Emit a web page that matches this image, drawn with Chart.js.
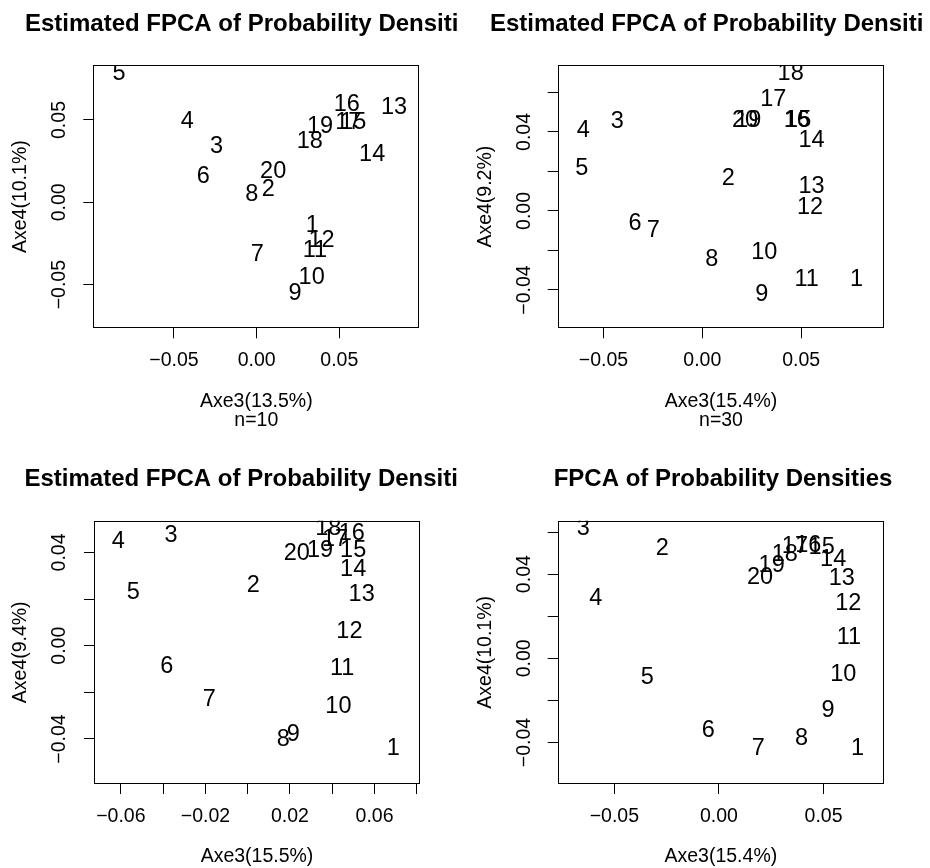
<!DOCTYPE html>
<html>
<head>
<meta charset="utf-8">
<script src="https://cdn.jsdelivr.net/npm/chart.js@4.4.1/dist/chart.umd.min.js"></script>
<style>
  body { margin: 0; background: #fff; }
  #wrap { position: relative; width: 930px; height: 868px; }
  canvas { position: absolute; }
</style>
</head>
<body>
<div id="wrap">
  <canvas id="p1" width="465" height="434" style="left:0;top:0"></canvas>
  <canvas id="p2" width="465" height="434" style="left:465px;top:0"></canvas>
  <canvas id="p3" width="465" height="434" style="left:0;top:434px"></canvas>
  <canvas id="p4" width="465" height="434" style="left:465px;top:434px"></canvas>
</div>
<script>
var family = '"Liberation Sans", Arial, Helvetica, sans-serif';
var pointNames = ['1','2','3','4','5','6','7','8','9','10','11','12','13','14','15','16','17','18','19','20'];

// panel 1 : n=10
var p1X = [0.0336, 0.0070, -0.0242, -0.0420, -0.0833, -0.0323, 0.0004, -0.0030, 0.0232, 0.0333,
           0.0353, 0.0393, 0.0831, 0.0699, 0.0584, 0.0545, 0.0554, 0.0322, 0.0383, 0.0100];
var p1Y = [-0.0142, 0.0079, 0.0338, 0.0490, 0.0780, 0.0156, -0.0314, 0.0050, -0.0553, -0.0456,
           -0.0290, -0.0229, 0.0578, 0.0292, 0.0484, 0.0592, 0.0484, 0.0368, 0.0460, 0.0186];
// panel 2 : n=30
var p2X = [0.0781, 0.0132, -0.0430, -0.0602, -0.0610, -0.0340, -0.0248, 0.0048, 0.0301, 0.0314,
           0.0528, 0.0545, 0.0553, 0.0553, 0.0485, 0.0478, 0.0359, 0.0447, 0.0233, 0.0216];
var p2Y = [-0.0346, 0.0165, 0.0455, 0.0405, 0.0213, -0.0062, -0.0101, -0.0245, -0.0422, -0.0211,
           -0.0346, 0.0019, 0.0126, 0.0356, 0.0460, 0.0460, 0.0565, 0.0697, 0.0460, 0.0460];
// panel 3
var p3X = [0.0689, 0.0027, -0.0363, -0.0612, -0.0541, -0.0383, -0.0182, 0.0168, 0.0216, 0.0429,
           0.0447, 0.0481, 0.0539, 0.0499, 0.0499, 0.0492, 0.0413, 0.0381, 0.0342, 0.0232];
var p3Y = [-0.0440, 0.0260, 0.0471, 0.0446, 0.0229, -0.0090, -0.0229, -0.0402, -0.0380, -0.0262,
           -0.0097, 0.0060, 0.0221, 0.0325, 0.0410, 0.0482, 0.0456, 0.0504, 0.0410, 0.0396];
// panel 4 : true FPCA
var p4X = [0.0663, -0.0271, -0.0649, -0.0589, -0.0343, -0.0051, 0.0188, 0.0395, 0.0522, 0.0594,
           0.0621, 0.0618, 0.0587, 0.0546, 0.0491, 0.0427, 0.0363, 0.0315, 0.0252, 0.0196];
var p4Y = [-0.0428, 0.0523, 0.0618, 0.0285, -0.0092, -0.0341, -0.0428, -0.0380, -0.0246, -0.0079,
           0.0100, 0.0261, 0.0380, 0.0470, 0.0525, 0.0538, 0.0530, 0.0491, 0.0443, 0.0385];

// ticks (all) and the ones R labelled
var tick05 = [-0.05, 0, 0.05];
var tick02y = [-0.04, -0.02, 0, 0.02, 0.04, 0.06];
var tick02y3 = [-0.04, -0.02, 0, 0.02, 0.04];
var tick02x3 = [-0.06, -0.04, -0.02, 0, 0.02, 0.04, 0.06, 0.08];
var lab04 = [-0.04, 0, 0.04];
var labX3 = [-0.06, -0.02, 0.02, 0.06];

var titles = ['Estimated FPCA of Probability Densiti', 'Estimated FPCA of Probability Densiti',
              'Estimated FPCA of Probability Densiti', 'FPCA of Probability Densities'];
var xTitles = [['Axe3(13.5%)', 'n=10'], ['Axe3(15.4%)', 'n=30'], 'Axe3(15.5%)', 'Axe3(15.4%)'];
var yTitles = ['Axe4(10.1%)', 'Axe4(9.2%)', 'Axe4(9.4%)', 'Axe4(10.1%)'];

function fmt(v) {
  var s = Math.abs(v).toFixed(2);
  return v < 0 ? '\u2212' + s : s;
}

var rStyle = {
  id: 'rStyle',
  afterDatasetsDraw: function(chart) {
    var ctx = chart.ctx, a = chart.chartArea, o = chart.options.plugins.rStyle;
    var meta = chart.getDatasetMeta(0);
    ctx.save();
    ctx.beginPath();
    ctx.rect(a.left, a.top, a.right - a.left, a.bottom - a.top);
    ctx.clip();
    ctx.fillStyle = '#000';
    ctx.font = '23.5px ' + family;
    ctx.textAlign = 'center';
    ctx.textBaseline = 'middle';
    meta.data.forEach(function(pt, i) {
      ctx.fillText(pointNames[i], pt.x, pt.y);
    });
    ctx.restore();

    // box
    ctx.save();
    ctx.strokeStyle = '#000';
    ctx.lineWidth = 1;
    var l = Math.round(a.left) + 0.5, t = Math.round(a.top) + 0.5;
    var r = Math.round(a.right) - 0.5, b = Math.round(a.bottom) - 0.5;
    ctx.strokeRect(l, t, r - l, b - t);

    // rotated y tick labels
    var ys = chart.scales.y;
    ctx.fillStyle = '#000';
    ctx.font = '19.5px ' + family;
    ctx.textAlign = 'center';
    ctx.textBaseline = 'middle';
    o.yLabels.forEach(function(v) {
      ctx.save();
      ctx.translate(60, ys.getPixelForValue(v));
      ctx.rotate(-Math.PI / 2);
      ctx.fillText(fmt(v), 0, 0);
      ctx.restore();
    });

    // main title
    ctx.font = 'bold 24px ' + family;
    ctx.fillText(o.title, o.titleX, o.titleY);
    ctx.restore();
  }
};

function makePanel(id, xs, ys, cfg) {
  var pts = xs.map(function(x, i) { return {x: x, y: ys[i]}; });
  var c = new Chart(document.getElementById(id), {
    type: 'scatter',
    data: { datasets: [{ data: pts, pointRadius: 0, pointHoverRadius: 0 }] },
    options: {
      responsive: false,
      animation: false,
      events: [],
      layout: { autoPadding: false, padding: { left: 0, top: cfg.top, right: 465 - cfg.right, bottom: 0 } },
      plugins: {
        legend: { display: false },
        tooltip: { enabled: false },
        rStyle: { yLabels: cfg.yLabels, title: cfg.title, titleX: cfg.titleX, titleY: cfg.titleY }
      },
      scales: {
        x: {
          type: 'linear',
          min: cfg.xMin, max: cfg.xMax,
          afterBuildTicks: function(s) { s.ticks = cfg.xTicks.map(function(v) { return {value: v}; }); },
          afterFit: function(s) { s.height = 434 - cfg.bottom; },
          grid: { drawOnChartArea: false, drawTicks: true, tickLength: 10, color: '#000', lineWidth: 1 },
          border: { display: false },
          ticks: {
            autoSkip: false, maxRotation: 0, minRotation: 0, padding: 11, color: '#000',
            font: { family: family, size: 19.5 },
            callback: function(v) { return cfg.xLabels.indexOf(v) >= 0 ? fmt(v) : ''; }
          },
          title: {
            display: true, text: cfg.xTitle, color: '#000',
            font: { family: family, size: 19.5, lineHeight: 1.0 },
            padding: { top: 0, bottom: cfg.xTitlePad }
          }
        },
        y: {
          type: 'linear',
          min: cfg.yMin, max: cfg.yMax,
          afterBuildTicks: function(s) { s.ticks = cfg.yTicks.map(function(v) { return {value: v}; }); },
          afterFit: function(s) { s.width = cfg.left; },
          grid: { drawOnChartArea: false, drawTicks: true, tickLength: 10, color: '#000', lineWidth: 1 },
          border: { display: false },
          ticks: { display: false },
          title: {
            display: true, text: cfg.yTitle, color: '#000',
            font: { family: family, size: 19.5, lineHeight: 1.0 },
            padding: { top: 11.25, bottom: 0 }
          }
        }
      }
    },
    plugins: [rStyle]
  });
  return c;
}

makePanel('p1', p1X, p1Y, {
  left: 93.3, right: 419.3, top: 65, bottom: 328.3,
  xMin: -0.0988, xMax: 0.0984, yMin: -0.0765, yMax: 0.0834,
  xTicks: tick05, xLabels: tick05, yTicks: tick05, yLabels: tick05,
  xTitle: xTitles[0], yTitle: yTitles[0], xTitlePad: 3.25,
  title: titles[0], titleX: 241.7, titleY: 24
});
makePanel('p2', p2X, p2Y, {
  left: 92.7, right: 419.3, top: 65, bottom: 328.3,
  xMin: -0.0732, xMax: 0.0921, yMin: -0.0594, yMax: 0.0739,
  xTicks: tick05, xLabels: tick05, yTicks: tick02y, yLabels: lab04,
  xTitle: xTitles[1], yTitle: yTitles[1], xTitlePad: 3.25,
  title: titles[1], titleX: 241.7, titleY: 24
});
makePanel('p3', p3X, p3Y, {
  left: 94, right: 420, top: 86.7, bottom: 350,
  xMin: -0.0727, xMax: 0.0815, yMin: -0.0593, yMax: 0.0536,
  xTicks: tick02x3, xLabels: labX3, yTicks: tick02y3, yLabels: lab04,
  xTitle: xTitles[2], yTitle: yTitles[2], xTitlePad: 1.75,
  title: titles[2], titleX: 241.2, titleY: 45
});
makePanel('p4', p4X, p4Y, {
  left: 92.7, right: 419, top: 86.7, bottom: 350,
  xMin: -0.0771, xMax: 0.0789, yMin: -0.0597, yMax: 0.0654,
  xTicks: tick05, xLabels: tick05, yTicks: tick02y, yLabels: lab04,
  xTitle: xTitles[3], yTitle: yTitles[3], xTitlePad: 1.75,
  title: titles[3], titleX: 258, titleY: 45
});
</script>
</body>
</html>
